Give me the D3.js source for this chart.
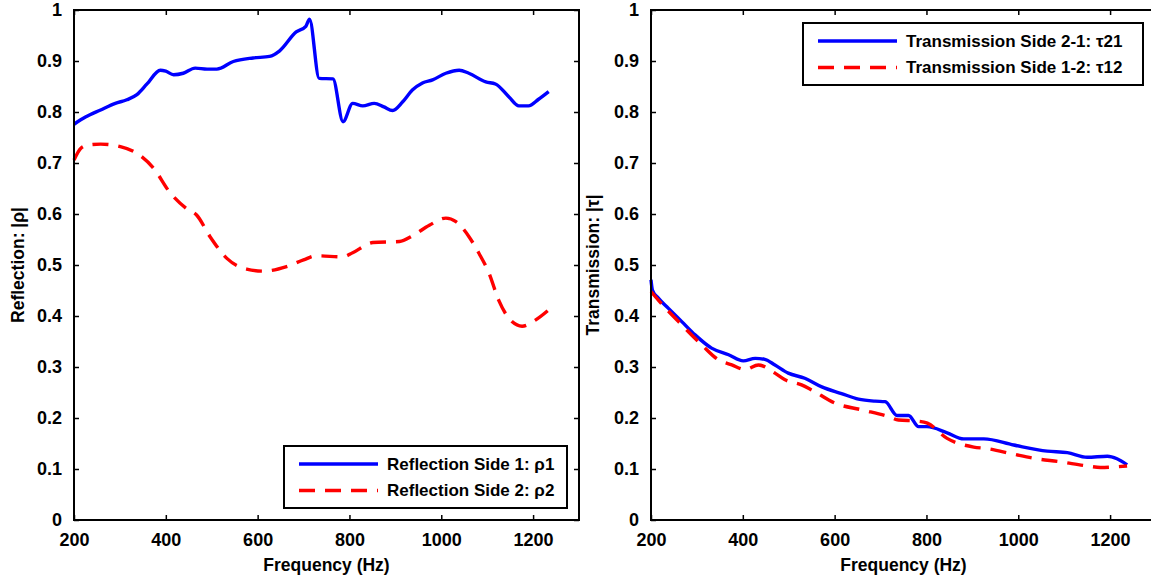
<!DOCTYPE html>
<html>
<head>
<meta charset="utf-8">
<script src="https://cdn.jsdelivr.net/npm/d3@7"></script>
<style>
  html, body { margin: 0; padding: 0; background: #fff; }
  svg { display: block; }
  text { font-family: "Liberation Sans", Arial, Helvetica, sans-serif; font-weight: bold; fill: #000; }
</style>
</head>
<body>
<svg id="chart" width="1151" height="582"></svg>
<script>
// Frequency ticks and value ticks shared by both panels
const freqTicks = [200, 400, 600, 800, 1000, 1200];
const valueTicks = [0, 0.1, 0.2, 0.3, 0.4, 0.5, 0.6, 0.7, 0.8, 0.9, 1];

// Reflection, side 1 (rho1)
const rho1Freq = [200, 225, 258, 290, 315, 337, 359, 388, 400, 417, 438, 464, 490, 511, 547, 590, 626, 648, 684, 705, 713, 734, 764, 786, 807, 829, 854, 875, 894, 916, 937, 959, 981, 1010, 1039, 1060, 1097, 1118, 1147, 1169, 1190, 1212, 1234];
const rho1 = [0.776, 0.790, 0.804, 0.817, 0.824, 0.834, 0.855, 0.882, 0.880, 0.873, 0.876, 0.886, 0.884, 0.884, 0.899, 0.906, 0.909, 0.920, 0.957, 0.968, 0.982, 0.866, 0.865, 0.781, 0.817, 0.812, 0.817, 0.810, 0.803, 0.820, 0.843, 0.857, 0.863, 0.876, 0.882, 0.876, 0.859, 0.855, 0.830, 0.812, 0.812, 0.825, 0.840];

// Reflection, side 2 (rho2)
const rho2Freq = [200, 215, 230, 258, 301, 337, 373, 410, 446, 467, 496, 533, 576, 612, 663, 700, 728, 786, 807, 851, 909, 937, 974, 1010, 1032, 1060, 1082, 1104, 1125, 1154, 1176, 1205, 1234];
const rho2 = [0.706, 0.729, 0.735, 0.737, 0.732, 0.719, 0.690, 0.641, 0.610, 0.598, 0.556, 0.513, 0.492, 0.488, 0.497, 0.510, 0.518, 0.516, 0.524, 0.544, 0.546, 0.557, 0.578, 0.592, 0.585, 0.556, 0.523, 0.484, 0.431, 0.389, 0.380, 0.392, 0.412];

// Transmission, side 2 to 1 (tau21)
const tau21Freq = [200, 203, 216, 238, 267, 296, 332, 369, 401, 427, 448, 470, 499, 535, 572, 615, 652, 688, 710, 736, 761, 783, 801, 845, 881, 925, 990, 1063, 1107, 1150, 1194, 1215, 1237];
const tau21 = [0.471, 0.451, 0.435, 0.415, 0.389, 0.363, 0.337, 0.324, 0.312, 0.317, 0.315, 0.304, 0.288, 0.278, 0.261, 0.248, 0.237, 0.233, 0.232, 0.205, 0.205, 0.183, 0.183, 0.171, 0.159, 0.159, 0.147, 0.135, 0.132, 0.123, 0.125, 0.120, 0.108];

// Transmission, side 1 to 2 (tau12)
const tau12Freq = [200, 216, 260, 311, 347, 376, 405, 434, 470, 492, 528, 550, 601, 659, 717, 739, 780, 802, 845, 903, 932, 990, 1034, 1092, 1150, 1179, 1237];
const tau12 = [0.448, 0.431, 0.389, 0.343, 0.314, 0.304, 0.295, 0.304, 0.288, 0.275, 0.265, 0.255, 0.229, 0.216, 0.203, 0.196, 0.194, 0.190, 0.160, 0.143, 0.140, 0.129, 0.121, 0.114, 0.106, 0.103, 0.106];

const BLUE = "#0000ff";
const RED = "#ff0000";

const svg = d3.select("#chart");

const panels = [
  {
    left: 74, right: 579, top: 10, bottom: 520,
    yLabel: "Reflection: |\u03c1|", yLabelX: 18,
    series: [
      { freq: rho1Freq, vals: rho1, color: BLUE, dash: null, name: "Reflection Side 1: \u03c11" },
      { freq: rho2Freq, vals: rho2, color: RED, dash: "16,10", name: "Reflection Side 2: \u03c12" }
    ],
    legend: { x: 284, y: 446, w: 283, h: 62 }
  },
  {
    left: 651, right: 1156, top: 10, bottom: 520,
    yLabel: "Transmission: |\u03c4|", yLabelX: 593,
    series: [
      { freq: tau21Freq, vals: tau21, color: BLUE, dash: null, name: "Transmission Side 2-1: \u03c421" },
      { freq: tau12Freq, vals: tau12, color: RED, dash: "16,10", name: "Transmission Side 1-2: \u03c412" }
    ],
    legend: { x: 803, y: 23, w: 340, h: 62 }
  }
];

panels.forEach(p => {
  const x = d3.scaleLinear().domain([200, 1300]).range([p.left, p.right]);
  const y = d3.scaleLinear().domain([0, 1]).range([p.bottom, p.top]);
  const g = svg.append("g");

  // data curves
  const line = d3.line()
    .x(d => x(d[0]))
    .y(d => y(d[1]))
    .curve(d3.curveMonotoneX);

  p.series.forEach(s => {
    const pts = s.freq.map((f, i) => [f, s.vals[i]]);
    g.append("path")
      .datum(pts)
      .attr("d", line)
      .attr("fill", "none")
      .attr("stroke", s.color)
      .attr("stroke-width", 3.4)
      .attr("stroke-linejoin", "round")
      .attr("stroke-dasharray", s.dash);
  });

  // axes: ticks point inward, mirrored on all four sides
  const tickLen = 5;
  const bottomAxis = d3.axisBottom(x).tickValues(freqTicks).tickFormat(d3.format("d"))
    .tickSizeInner(-tickLen).tickSizeOuter(0).tickPadding(13);
  const topAxis = d3.axisTop(x).tickValues(freqTicks).tickFormat("")
    .tickSizeInner(-tickLen).tickSizeOuter(0);
  const leftAxis = d3.axisLeft(y).tickValues(valueTicks).tickFormat(d => d === 0 || d === 1 ? d3.format("d")(d) : d3.format(".1f")(d))
    .tickSizeInner(-tickLen).tickSizeOuter(0).tickPadding(12);
  const rightAxis = d3.axisRight(y).tickValues(valueTicks).tickFormat("")
    .tickSizeInner(-tickLen).tickSizeOuter(0);

  const axes = [
    g.append("g").attr("transform", `translate(0,${p.bottom})`).call(bottomAxis),
    g.append("g").attr("transform", `translate(0,${p.top})`).call(topAxis),
    g.append("g").attr("transform", `translate(${p.left},0)`).call(leftAxis),
    g.append("g").attr("transform", `translate(${p.right},0)`).call(rightAxis)
  ];
  axes.forEach(a => {
    a.select(".domain").remove();
    a.selectAll(".tick line").attr("stroke", "#000").attr("stroke-width", 1.5);
    a.selectAll("text").attr("font-size", 18).attr("font-family", null).attr("fill", "#000");
  });

  // plot frame
  g.append("rect")
    .attr("x", p.left).attr("y", p.top)
    .attr("width", p.right - p.left).attr("height", p.bottom - p.top)
    .attr("fill", "none").attr("stroke", "#000").attr("stroke-width", 2);

  // axis titles
  g.append("text")
    .attr("x", (p.left + p.right) / 2).attr("y", 571)
    .attr("text-anchor", "middle").attr("font-size", 17.5)
    .text("Frequency (Hz)");
  g.append("text")
    .attr("transform", `translate(${p.yLabelX},${(p.top + p.bottom) / 2}) rotate(-90)`)
    .attr("text-anchor", "middle").attr("dy", "0.35em").attr("font-size", 17.5)
    .text(p.yLabel);

  // legend
  const L = p.legend;
  const lg = g.append("g");
  lg.append("rect")
    .attr("x", L.x).attr("y", L.y).attr("width", L.w).attr("height", L.h)
    .attr("fill", "#fff").attr("stroke", "#000").attr("stroke-width", 2);
  p.series.forEach((s, i) => {
    const cy = L.y + 18 + i * 26.5;
    lg.append("line")
      .attr("x1", L.x + 15).attr("x2", L.x + 94)
      .attr("y1", cy).attr("y2", cy)
      .attr("stroke", s.color).attr("stroke-width", 3.4)
      .attr("stroke-dasharray", s.dash);
    lg.append("text")
      .attr("x", L.x + 103).attr("y", cy).attr("dy", "0.35em")
      .attr("font-size", 17)
      .text(s.name);
  });
});
</script>
</body>
</html>
